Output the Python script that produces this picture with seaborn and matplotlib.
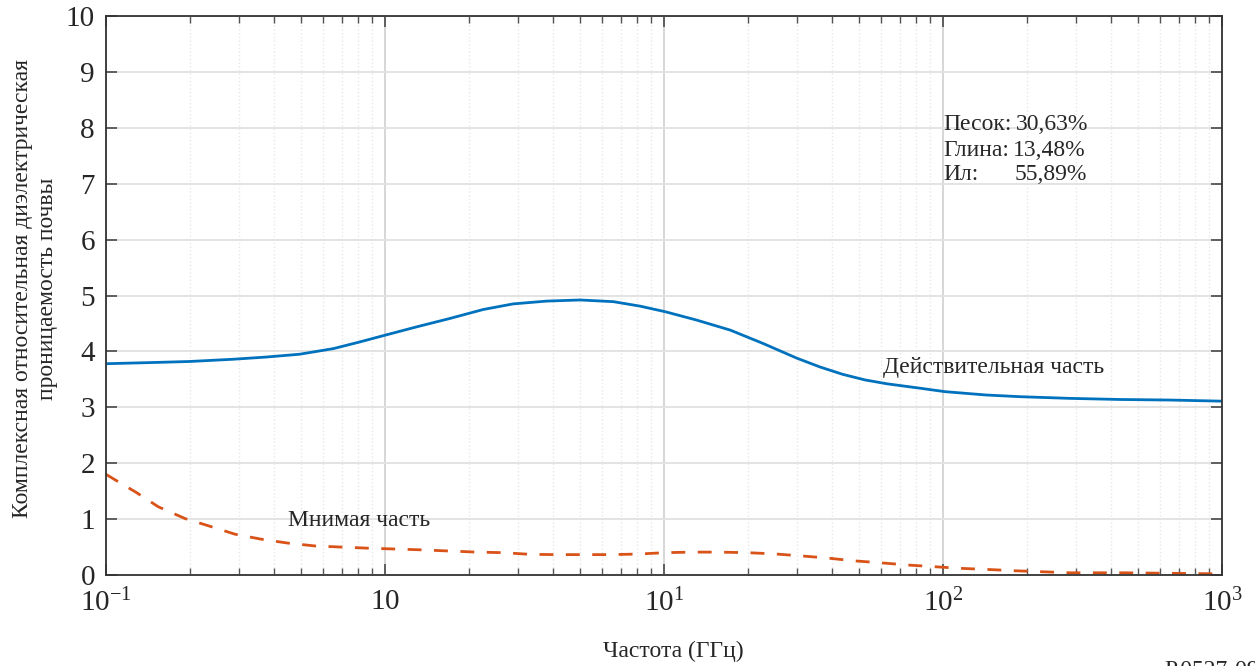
import pandas as pd
import matplotlib
matplotlib.use('Agg')
import matplotlib.pyplot as plt
import matplotlib.ticker as mticker
import seaborn as sns

real_freq = [0.1, 0.144, 0.2, 0.286, 0.377, 0.495, 0.653, 0.813, 1.0, 1.30, 1.71,
             2.25, 2.88, 3.80, 5.0, 6.58, 8.20, 10.1, 13.1, 17.3, 22.7, 29.9,
             36.3, 43.7, 52.5, 63.1, 83.2, 101.6, 143, 189, 285, 431, 652, 1000]
real_eps = [3.78, 3.80, 3.82, 3.86, 3.90, 3.95, 4.05, 4.17, 4.29, 4.44, 4.59,
            4.75, 4.85, 4.90, 4.92, 4.89, 4.81, 4.71, 4.56, 4.38, 4.14, 3.88,
            3.72, 3.59, 3.49, 3.42, 3.34, 3.28, 3.22, 3.19, 3.16, 3.14, 3.13, 3.11]

# Imaginary part
imag_freq = [0.1, 0.129, 0.154, 0.192, 0.233, 0.290, 0.361, 0.450, 0.561, 0.698,
             0.871, 1.09, 1.36, 1.69, 2.13, 2.65, 3.31, 4.15, 5.16, 6.46, 8.05,
             10.1, 12.6, 15.7, 19.8, 24.5, 30.5, 38.3, 47.6, 59.4, 74.1, 92.3,
             115, 144, 179, 223, 285, 443, 689, 1000]
imag_eps = [1.80, 1.47, 1.22, 1.01, 0.88, 0.73, 0.64, 0.57, 0.52, 0.50,
            0.48, 0.465, 0.45, 0.43, 0.41, 0.40, 0.37, 0.365, 0.365, 0.365, 0.375,
            0.40, 0.41, 0.41, 0.40, 0.38, 0.345, 0.305, 0.255, 0.22, 0.18, 0.15,
            0.12, 0.10, 0.077, 0.06, 0.04, 0.04, 0.03, 0.02]

x_ticks = [0.1, 1, 10, 100, 1000]
x_tick_labels = ['$10^{-1}$', '$10$', '$10^{1}$', '$10^{2}$', '$10^{3}$']
y_ticks = list(range(0, 11))

soil_names = ['Песок:', 'Глина:', 'Ил:']
soil_values = ['30,63%', '13,48%', '55,89%']

df_real = pd.DataFrame({'freq': real_freq, 'eps': real_eps})
df_imag = pd.DataFrame({'freq': imag_freq, 'eps': imag_eps})

sns.set_style('ticks')
plt.rcParams['font.family'] = ['Liberation Serif', 'DejaVu Serif']
plt.rcParams['mathtext.fontset'] = 'custom'
plt.rcParams['mathtext.rm'] = 'Liberation Serif'
plt.rcParams['mathtext.it'] = 'Liberation Serif'

fig = plt.figure(figsize=(12.55, 6.66), dpi=100)
ax = fig.add_axes([0.0845, 0.1366, 0.8892, 0.8394])

ax.set_xscale('log')
sns.lineplot(data=df_real, x='freq', y='eps', ax=ax, color='#0072BD', linewidth=2.0)
sns.lineplot(data=df_imag, x='freq', y='eps', ax=ax, color='#D95319', linewidth=2.0,
             linestyle=(0, (5, 4.5)))

ax.set_xlim(0.1, 1000)
ax.set_ylim(0, 10)
ax.set_xticks(x_ticks)
ax.set_xticklabels(x_tick_labels)
ax.set_yticks(y_ticks)
ax.xaxis.set_minor_locator(mticker.LogLocator(base=10, subs=range(2, 10), numticks=20))
ax.xaxis.set_minor_formatter(mticker.NullFormatter())

ax.grid(True, which='major', axis='y', color='#e3e3e3', linewidth=1.4)
ax.grid(True, which='major', axis='x', color='#d6d6d6', linewidth=1.4)
ax.grid(True, which='minor', axis='x', color='#e8e8e8', linewidth=1.0, linestyle=':')

for s in ax.spines.values():
    s.set_visible(True)
    s.set_color('#333333')
    s.set_linewidth(1.3)

ax.tick_params(which='major', direction='in', length=8, width=1.3, color='#555555',
               top=True, right=True, labelsize=21, pad=8)
ax.tick_params(which='minor', direction='in', length=5, width=1.0, color='#555555',
               top=True, right=True)
ax.tick_params(axis='x', which='major', pad=10)

ax.set_xlabel('Частота (ГГц)', fontsize=17)
ax.xaxis.set_label_coords(0.508, -0.118)
ax.set_ylabel('Комплексная относительная диэлектрическая\nпроницаемость почвы',
              fontsize=17, linespacing=1.25)
ax.yaxis.set_label_coords(-0.064, 0.512)
ax.yaxis.label.set_va('center')

ax.text(0.45, 0.97, 'Мнимая часть', fontsize=17, va='center', ha='left')
ax.text(61, 3.72, 'Действительная часть', fontsize=17, va='center', ha='left')
for name, val, yy, xv in zip(soil_names, soil_values, [8.05, 7.60, 7.16], [183, 178, 180]):
    ax.text(100, yy, name, fontsize=17, va='center', ha='left')
    ax.text(xv, yy, val, fontsize=17, va='center', ha='left')

fig.text(0.928, 0.0095, 'P.0527-09', fontsize=17, va='top', ha='left')

fig.savefig('out.png', dpi=100)
